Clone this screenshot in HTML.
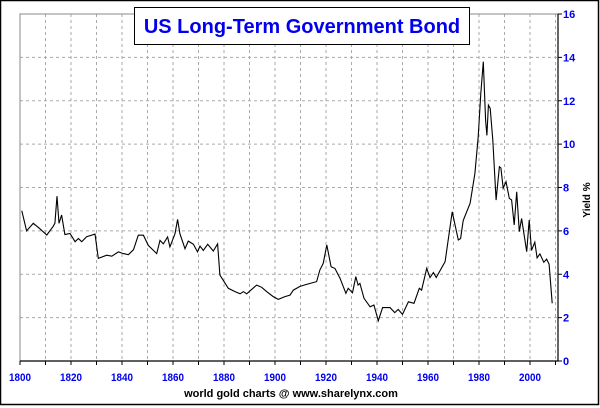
<!DOCTYPE html>
<html><head><meta charset="utf-8"><style>
html,body{margin:0;padding:0;background:#fff}
svg{display:block;font-family:"Liberation Sans",sans-serif}
</style></head><body>
<svg id="chart" width="600" height="408" viewBox="0 0 600 408">
<rect x="0.5" y="0.5" width="598" height="404" fill="#fff" stroke="#000" stroke-width="1.5"/>
<g id="grid"></g>
<g id="axes"></g>
<path id="line" fill="none" stroke="#000" stroke-width="1.1"/>
<rect x="134.5" y="7.5" width="335" height="37" fill="#fff" stroke="#000" stroke-width="1"/>
<text x="302" y="33" text-anchor="middle" font-size="20" font-weight="bold" fill="#0000ee">US Long-Term Government Bond</text>
<text x="590" y="200" text-anchor="middle" font-size="10" font-weight="bold" fill="#000" transform="rotate(-90 590 200)">Yield %</text>
<text x="291" y="397" text-anchor="middle" font-size="11" font-weight="bold" fill="#000">world gold charts @ www.sharelynx.com</text>
</svg>
<script>
const years=[1800.7,1802.6,1805.2,1807.6,1810.5,1813,1813.7,1814.5,1815.3,1816.3,1817.6,1819.6,1821.6,1822.9,1824.2,1826.1,1829.4,1830.7,1834,1836,1838.6,1840.5,1842.5,1844.5,1846.4,1848.4,1850.3,1853.6,1854.9,1856.2,1857.9,1858.8,1860.8,1861.8,1862.7,1864.7,1866,1868,1869.6,1870.6,1871.9,1873.6,1875.8,1877.5,1878.4,1881.7,1884.3,1886.3,1887.6,1888.9,1892.8,1894.8,1896.7,1899.3,1901.3,1903.9,1905.9,1907.2,1909.8,1912.4,1916.3,1917.6,1918.9,1920.3,1922,1923.5,1925.5,1927.8,1928.7,1930.4,1931.7,1932.6,1933.3,1934.9,1937.3,1938.8,1940.5,1942.2,1945.1,1947,1948.3,1950,1952.3,1954.5,1956.6,1957.5,1959.5,1960.8,1962.1,1963.2,1966.7,1969.5,1971.9,1972.8,1973.8,1976.5,1978.4,1979.7,1980.7,1981.7,1982.6,1983.1,1983.7,1984.4,1985.4,1986.7,1988,1988.6,1989.5,1990.6,1991.9,1992.8,1993.8,1994.8,1995.8,1996.7,1998.7,1999.7,2000.6,2001.9,2002.8,2003.9,2005.4,2006.5,2007.5,2008.7];
const yields=[6.93,6.0,6.35,6.12,5.81,6.2,6.35,7.6,6.35,6.73,5.83,5.88,5.5,5.65,5.5,5.73,5.85,4.73,4.88,4.83,5.03,4.95,4.9,5.13,5.8,5.8,5.33,4.95,5.56,5.4,5.72,5.26,5.87,6.53,5.87,5.18,5.53,5.38,5.03,5.3,5.1,5.38,5.07,5.4,3.96,3.35,3.2,3.1,3.2,3.1,3.5,3.4,3.2,2.97,2.84,2.97,3.04,3.27,3.44,3.53,3.66,4.2,4.5,5.35,4.35,4.27,3.82,3.12,3.35,3.15,3.89,3.5,3.58,2.89,2.5,2.58,1.86,2.46,2.46,2.23,2.38,2.15,2.73,2.66,3.35,3.27,4.27,3.85,4.08,3.85,4.58,6.88,5.58,5.65,6.48,7.27,8.65,10.34,12.34,13.8,11.1,10.4,11.8,11.65,10.19,7.42,8.96,8.9,7.97,8.27,7.5,7.43,6.27,7.8,5.96,6.57,5.04,6.5,5.1,5.48,4.76,4.94,4.55,4.7,4.47,2.66];
const yTicks=["0","2","4","6","8","10","12","14","16"];
const xTicks=["1800","1820","1840","1860","1880","1900","1920","1940","1960","1980","2000"];
const L=20,R=558,T=14,B=361;
const X=y=>L+(y-1800)*2.55, Y=v=>B-(v/16)*(B-T);
const NS="http://www.w3.org/2000/svg";
function mk(tag,a,p){const e=document.createElementNS(NS,tag);for(const k in a)e.setAttribute(k,a[k]);p.appendChild(e);return e;}
const grid=document.getElementById('grid'),axes=document.getElementById('axes');
for(let yr=1810;yr<2011;yr+=10){const l=mk('line',{x1:X(yr),x2:X(yr),y1:T,y2:B,stroke:'#aaa','stroke-dasharray':'3,3'},grid);

}
yTicks.forEach(t=>{const v=+t;if(v>0&&v<16){const l=mk('line',{x1:L,x2:R,y1:Y(v),y2:Y(v),stroke:'#aaa','stroke-dasharray':'3,3'},grid);

}
const tk=mk('line',{x1:R,x2:R+4,y1:Y(v),y2:Y(v),stroke:'#000'},axes);


const tx=mk('text',{x:R+5,y:Y(v)+4,'font-size':11,'font-weight':'bold',fill:'#0000ee'},axes);tx.textContent=t;

});
mk('path',{d:`M${L},${B}V${T}H${R}`,fill:'none',stroke:'#888'},axes);
mk('path',{d:`M${L},${B}H${R}V${T}`,fill:'none',stroke:'#000','stroke-width':1.2},axes);
for(let yr=1800;yr<2011;yr+=10){const tk=mk('line',{x1:X(yr),x2:X(yr),y1:B,y2:B+4,stroke:'#000'},axes);

}
xTicks.forEach(t=>{const tx=mk('text',{x:X(+t),y:381,'text-anchor':'middle','font-size':11,'font-weight':'bold',fill:'#0000ee',textLength:22,lengthAdjust:'spacingAndGlyphs'},axes);tx.textContent=t;

});
document.getElementById('line').setAttribute('d',years.map((y,i)=>(i?'L':'M')+X(y).toFixed(1)+','+Y(yields[i]).toFixed(1)).join(''));
</script>
</body></html>
